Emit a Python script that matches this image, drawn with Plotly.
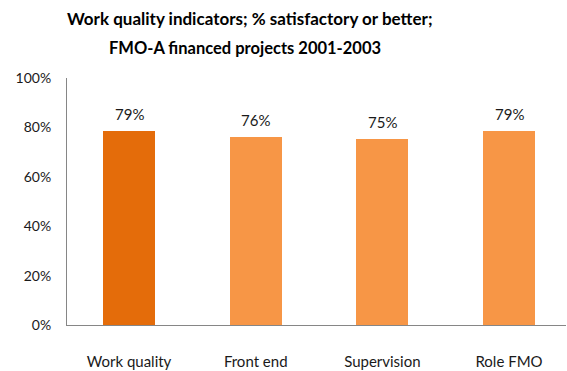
import plotly.graph_objects as go

categories = ["Work quality", "Front end", "Supervision", "Role FMO"]
values = [0.787, 0.763, 0.754, 0.786]
bar_colors = ["#E46C0A", "#F79646", "#F79646", "#F79646"]
y_ticks = [0, 0.2, 0.4, 0.6, 0.8, 1.0]
y_tick_labels = ["0%", "20%", "40%", "60%", "80%", "100%"]
title_lines = ["Work quality indicators; % satisfactory or better;",
               "FMO-A financed projects 2001-2003"]

FONT = "Lato"
x_pos = list(range(len(categories)))

fig = go.Figure()
fig.add_trace(go.Bar(
    x=x_pos, y=values, marker=dict(color=bar_colors, line=dict(width=0)),
    width=0.41, hoverinfo="skip",
))

for xi, v in zip(x_pos, values):
    fig.add_annotation(x=xi, y=v, text=f"{round(v*100)}%", showarrow=False,
                       yanchor="bottom", yshift=6,
                       font=dict(family=FONT, size=15, color="#1a1a1a"))

fig.add_annotation(xref="paper", yref="paper", x=(249-67)/499, y=1 + (78-18)/249,
                   text=f"<b>{title_lines[0]}</b>", showarrow=False,
                   xanchor="center", yanchor="middle",
                   font=dict(family=FONT, size=17, color="#000000"))
fig.add_annotation(xref="paper", yref="paper", x=(245-67)/499, y=1 + (78-48)/249,
                   text=f"<b>{title_lines[1]}</b>", showarrow=False,
                   xanchor="center", yanchor="middle",
                   font=dict(family=FONT, size=16.5, color="#000000"))

fig.update_layout(
    width=567, height=371,
    margin=dict(l=67, r=1, t=78, b=44),
    paper_bgcolor="white", plot_bgcolor="white",
    showlegend=False,
    bargap=0,
    xaxis=dict(
        range=[-0.49, 3.45],
        tickmode="array", tickvals=x_pos, ticktext=categories,
        showline=True, linecolor="#868686", linewidth=1,
        showgrid=False, zeroline=False, ticks="",
        ticklabelstandoff=23,
        tickfont=dict(family=FONT, size=15, color="#1a1a1a"),
        fixedrange=True,
    ),
    yaxis=dict(
        range=[0, 1.0],
        tickmode="array", tickvals=y_ticks, ticktext=y_tick_labels,
        showline=True, linecolor="#868686", linewidth=1,
        showgrid=False, zeroline=False, ticks="",
        ticklabelstandoff=12,
        tickfont=dict(family=FONT, size=14, color="#1a1a1a"),
        fixedrange=True,
    ),
)

fig.write_html("out.html")
